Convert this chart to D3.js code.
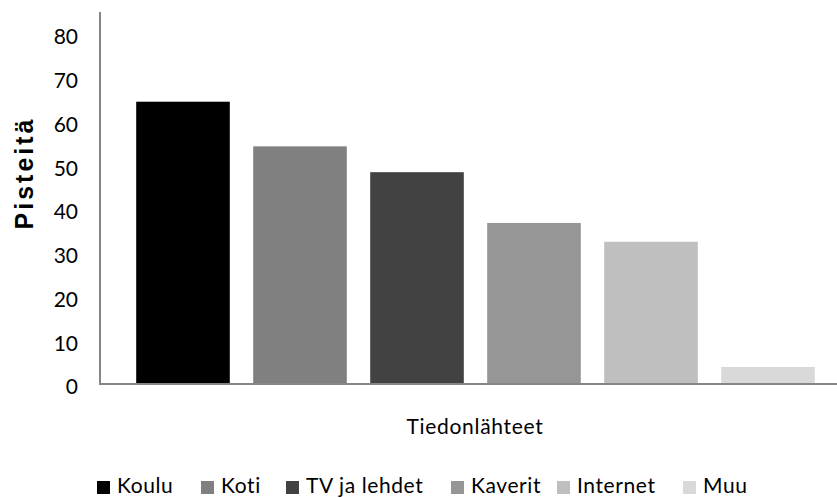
<!DOCTYPE html>
<html>
<head>
<meta charset="utf-8">
<script src="https://cdn.jsdelivr.net/npm/d3@7"></script>
<style>
  body { margin: 0; background: #fff; }
  text { font-family: Lato, "Open Sans", sans-serif; fill: #000; }
</style>
</head>
<body>
<svg id="chart"></svg>
<script>
/*
    DATA
*/
var categories = ["Koulu", "Koti", "TV ja lehdet", "Kaverit", "Internet", "Muu"];
var values = [64.5, 54.3, 48.4, 36.8, 32.5, 3.9];
var colors = ["#000000", "#808080", "#424242", "#969696", "#bfbfbf", "#d9d9d9"];
var yTicks = [0, 10, 20, 30, 40, 50, 60, 70, 80];

/*
    LAYOUT
*/
var width = 837;
var height = 498;
var axisLeft = 100;
var baseline = 384;

var svg = d3.select("#chart")
    .attr("width", width)
    .attr("height", height);

var x = d3.scaleBand()
    .domain(categories)
    .range([124.5, 826.5])
    .paddingInner(0.2)
    .paddingOuter(0.1);

var y = d3.scaleLinear()
    .domain([0, 85])
    .range([baseline, 12]);

// bars
svg.selectAll(".bar")
    .data(categories)
    .enter().append("rect")
    .attr("class", "bar")
    .attr("x", function(d) { return x(d); })
    .attr("width", x.bandwidth())
    .attr("y", function(d, i) { return y(values[i]); })
    .attr("height", function(d, i) { return baseline - y(values[i]); })
    .attr("fill", function(d, i) { return colors[i]; });

// axis lines
svg.append("line")
    .attr("x1", axisLeft).attr("x2", axisLeft)
    .attr("y1", y(85)).attr("y2", baseline + 1)
    .attr("stroke", "#868686").attr("stroke-width", 2);

svg.append("line")
    .attr("x1", axisLeft - 1).attr("x2", width)
    .attr("y1", baseline).attr("y2", baseline)
    .attr("stroke", "#868686").attr("stroke-width", 2);

// y tick labels
svg.selectAll(".ytick")
    .data(yTicks)
    .enter().append("text")
    .attr("class", "ytick")
    .attr("x", 78)
    .attr("y", function(d) { return y(d) + 3; })
    .attr("dy", "0.35em")
    .attr("text-anchor", "end")
    .style("font-size", "21px")
    .text(function(d) { return d; });

// axis titles
svg.append("text")
    .attr("transform", "translate(33,173) rotate(-90)")
    .attr("text-anchor", "middle")
    .style("font-family", "'Liberation Sans', Arial, sans-serif")
    .style("font-size", "25px")
    .style("font-weight", "bold")
    .style("letter-spacing", "3px")
    .text("Pisteitä");

svg.append("text")
    .attr("x", 475)
    .attr("y", 427)
    .attr("dy", "0.35em")
    .attr("text-anchor", "middle")
    .style("font-size", "21px")
    .style("letter-spacing", "0.7px")
    .text("Tiedonlähteet");

// legend
var legendX = [97, 201, 286, 451, 557, 683];
var legend = svg.selectAll(".legend")
    .data(categories)
    .enter().append("g")
    .attr("class", "legend")
    .attr("transform", function(d, i) { return "translate(" + legendX[i] + ",481)"; });

legend.append("rect")
    .attr("width", 13)
    .attr("height", 13)
    .attr("fill", function(d, i) { return colors[i]; });

legend.append("text")
    .attr("x", 20)
    .attr("y", 12)
    .style("font-size", "21px")
    .style("letter-spacing", "0.6px")
    .text(function(d) { return d; });
</script>
</body>
</html>
